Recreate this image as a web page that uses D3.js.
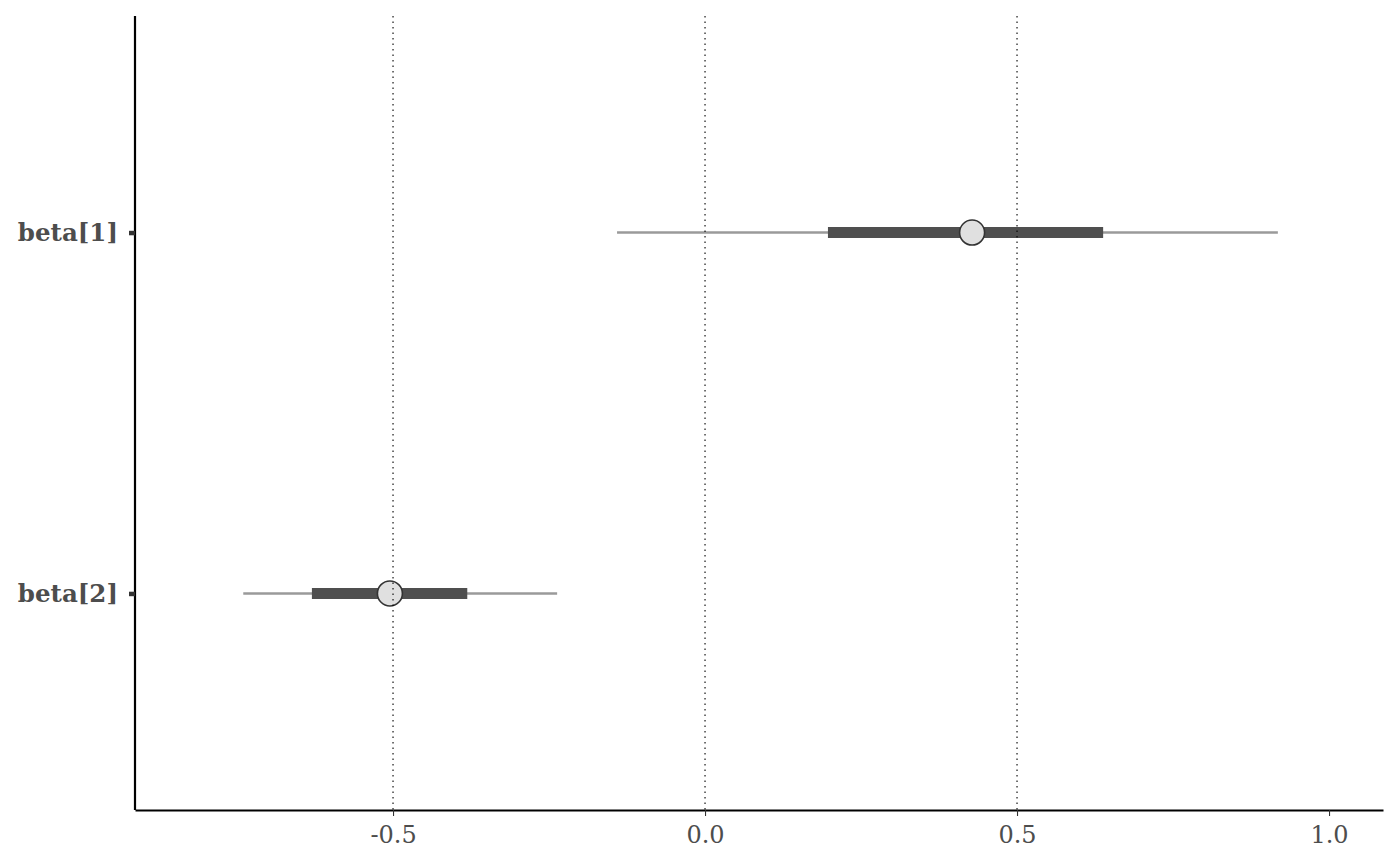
<!DOCTYPE html>
<html>
<head>
<meta charset="utf-8">
<script src="https://cdn.jsdelivr.net/npm/d3@7"></script>
<style>
  body { margin: 0; background: #fff; }
  svg { display: block; }
</style>
</head>
<body>
<div id="chart"></div>
<script>
var w = 1400, h = 866;

// interval data
var params = ["beta[1]", "beta[2]"];
var outerLo = [-0.141, -0.740];
var innerLo = [0.197, -0.630];
var medians = [0.428, -0.505];
var innerHi = [0.638, -0.381];
var outerHi = [0.918, -0.237];
var xTicks = [-0.5, 0.0, 0.5, 1.0];
var xTickLabels = ["-0.5", "0.0", "0.5", "1.0"];
var refLines = [-0.5, 0.0, 0.5];
var xDomain = [-0.9135, 1.0865];

var margin = { left: 135, right: 17, top: 16, bottom: 56 };

var svg = d3.select("#chart").append("svg")
    .attr("width", w).attr("height", h);

var x = d3.scaleLinear().domain(xDomain)
    .range([margin.left, w - margin.right]);
var y = d3.scalePoint().domain(params)
    .range([margin.top, h - margin.bottom]).padding(0.6);

var rows = params.map(function (p, i) {
    return { p: p, ll: outerLo[i], l: innerLo[i], m: medians[i], h: innerHi[i], hh: outerHi[i] };
});

// outer intervals
svg.append("g").selectAll("line").data(rows).enter().append("line")
    .attr("x1", d => x(d.ll)).attr("x2", d => x(d.hh))
    .attr("y1", d => y(d.p)).attr("y2", d => y(d.p))
    .attr("stroke", "#9a9a9a").attr("stroke-width", 2.6);

// inner intervals
svg.append("g").selectAll("line").data(rows).enter().append("line")
    .attr("x1", d => x(d.l)).attr("x2", d => x(d.h))
    .attr("y1", d => y(d.p)).attr("y2", d => y(d.p))
    .attr("stroke", "#4f4f4f").attr("stroke-width", 11);

// point estimates
svg.append("g").selectAll("circle").data(rows).enter().append("circle")
    .attr("cx", d => x(d.m)).attr("cy", d => y(d.p))
    .attr("r", 12.5)
    .attr("fill", "#e0e0e0").attr("stroke", "#333").attr("stroke-width", 1.6);

// dotted reference lines, on top of the marks
svg.append("g").selectAll("line").data(refLines).enter().append("line")
    .attr("x1", d => x(d)).attr("x2", d => x(d))
    .attr("y1", margin.top).attr("y2", h - margin.bottom)
    .attr("stroke", "#000").attr("stroke-width", 1.1)
    .attr("stroke-dasharray", "1.5,4");

// x axis
var xAxis = svg.append("g")
    .attr("transform", "translate(0," + (h - margin.bottom) + ")")
    .call(d3.axisBottom(x).tickValues(xTicks)
        .tickFormat((d, i) => xTickLabels[i])
        .tickSize(6).tickSizeOuter(0).tickPadding(10));
xAxis.select(".domain").attr("stroke", "#000").attr("stroke-width", 2.2);
xAxis.selectAll(".tick line").attr("stroke", "#333").attr("stroke-width", 1.1);
xAxis.selectAll(".tick text")
    .attr("fill", "#4d4d4d")
    .style("font-family", "DejaVu Serif")
    .style("font-size", "24px");

// y axis
var yAxis = svg.append("g")
    .attr("transform", "translate(" + margin.left + ",0)")
    .call(d3.axisLeft(y).tickSize(6).tickSizeOuter(0).tickPadding(11));
yAxis.select(".domain").attr("d", "M0," + margin.top + "V" + (h - margin.bottom))
    .attr("stroke", "#000").attr("stroke-width", 2.2);
yAxis.selectAll(".tick line").attr("stroke", "#333").attr("stroke-width", 4.5);
yAxis.selectAll(".tick text")
    .attr("fill", "#4d4d4d")
    .style("font-family", "DejaVu Serif")
    .style("font-weight", "bold")
    .style("font-size", "24.5px");
</script>
</body>
</html>
